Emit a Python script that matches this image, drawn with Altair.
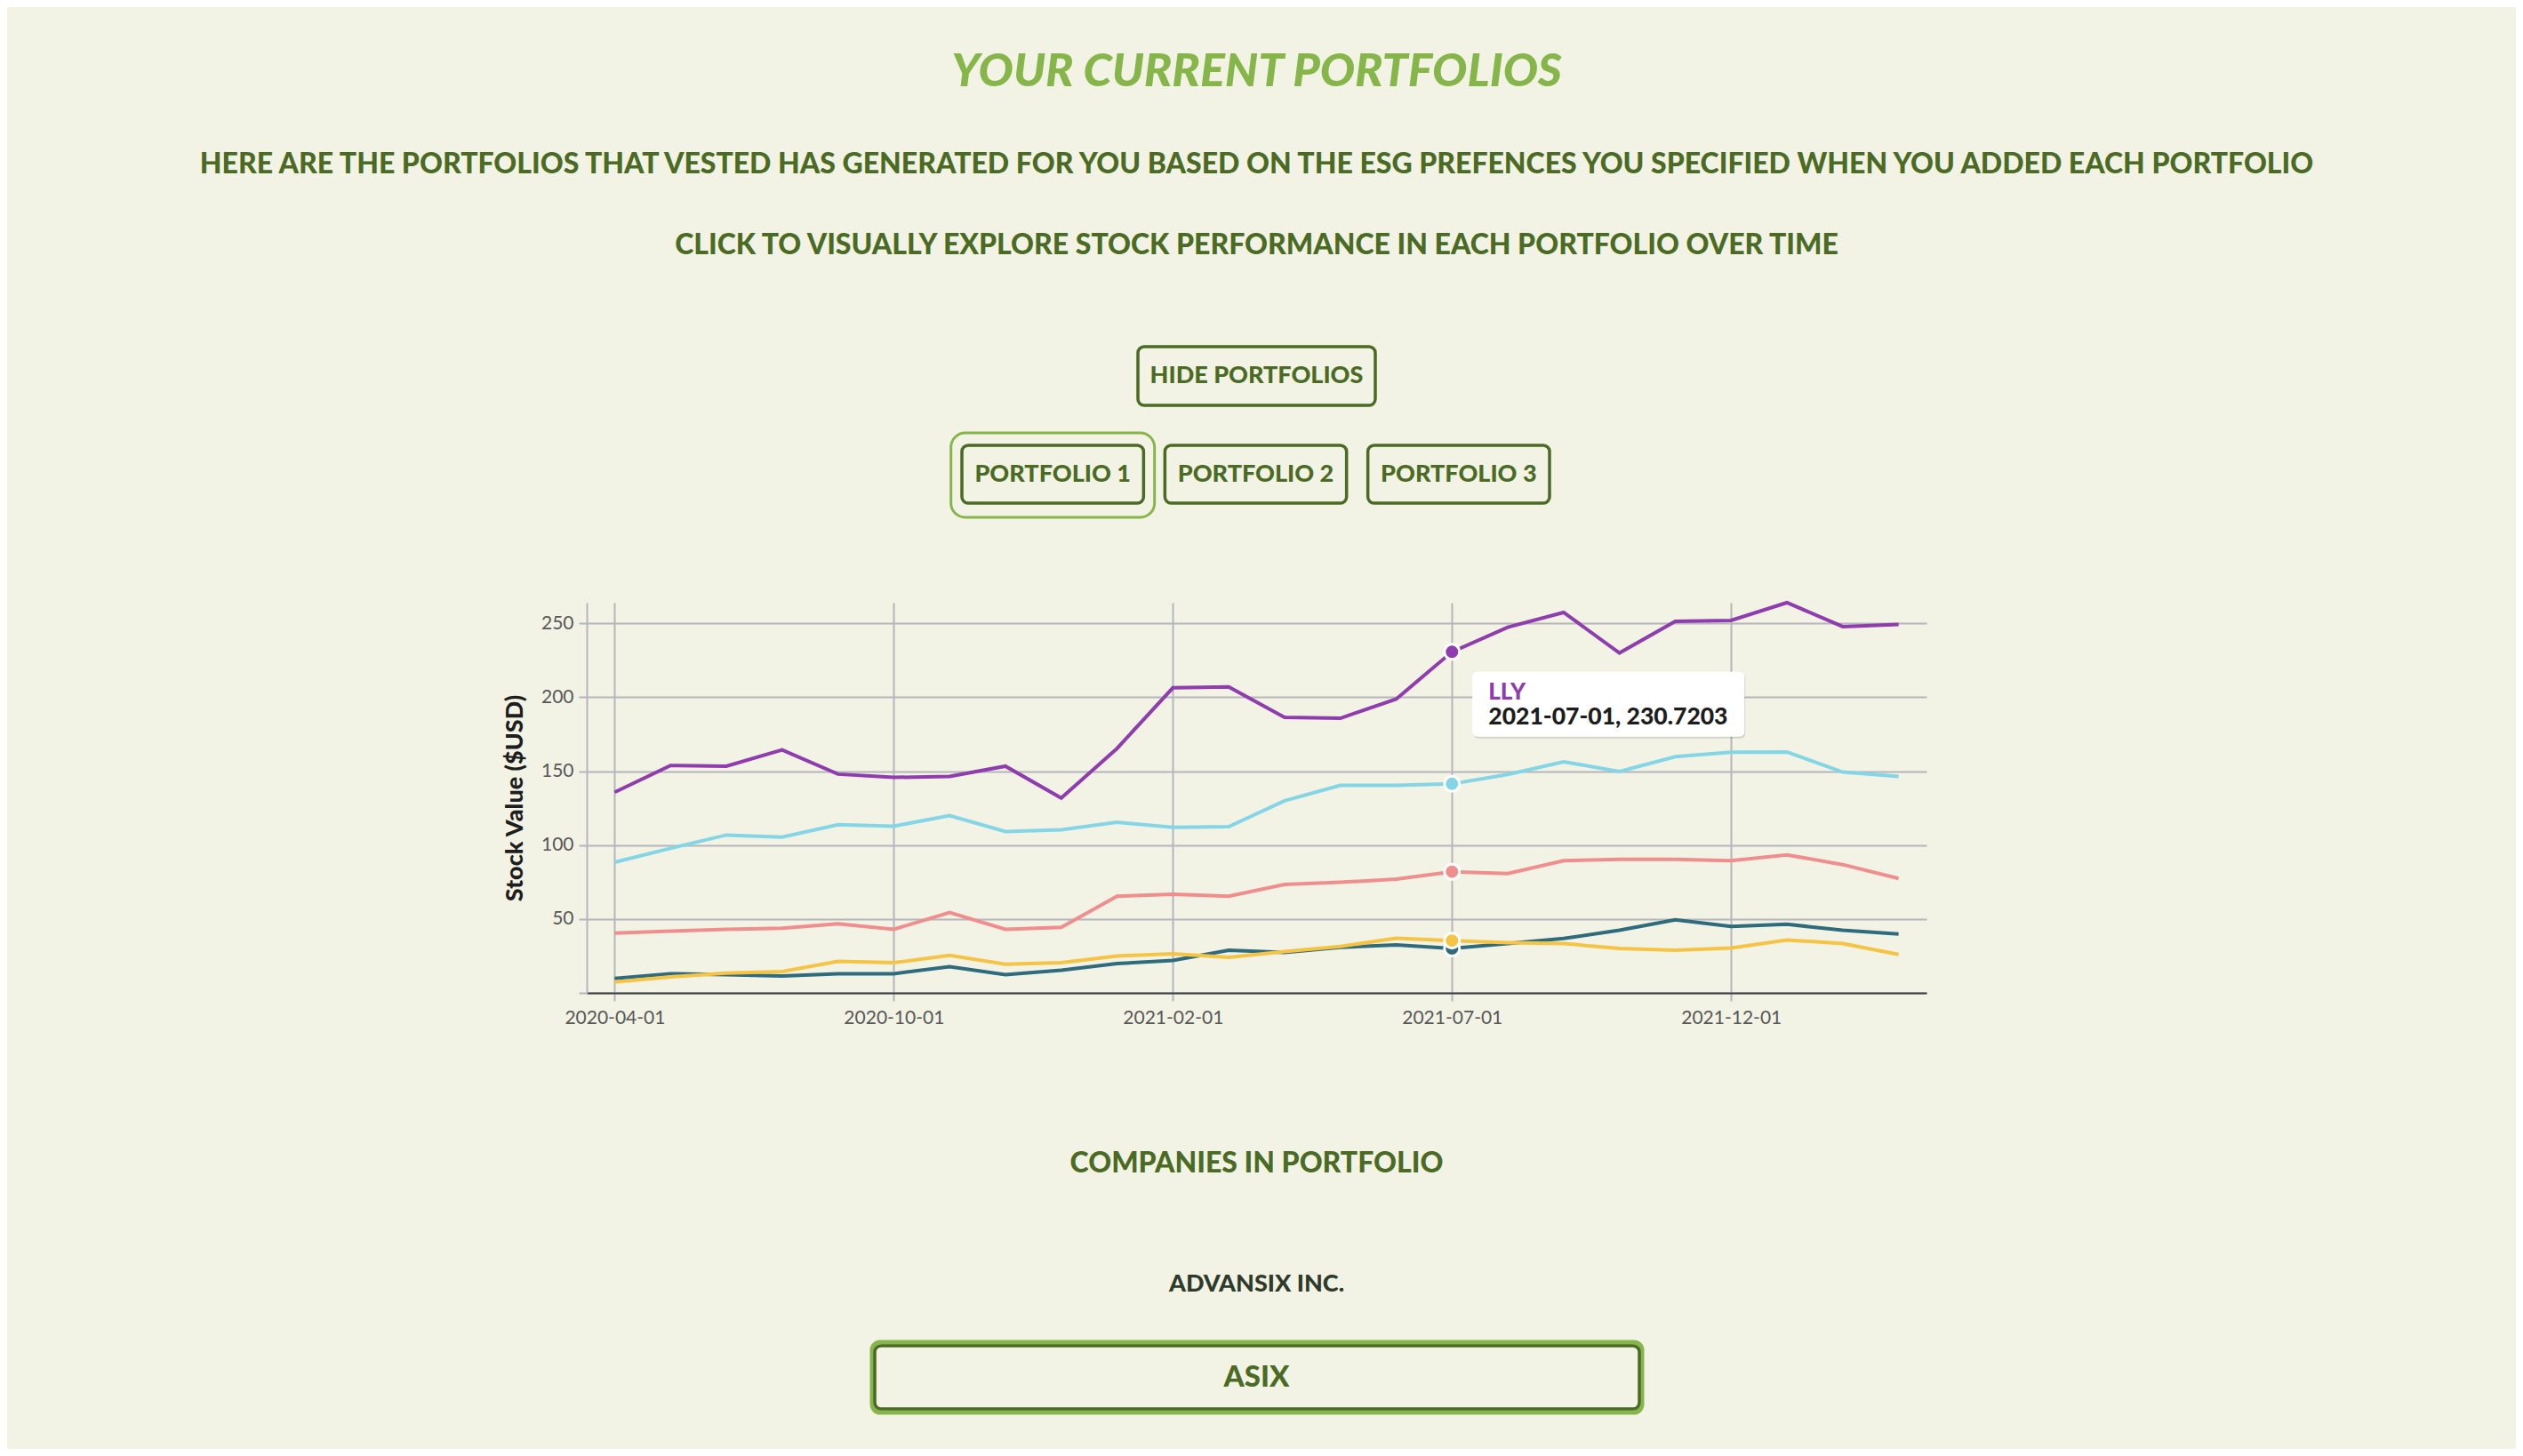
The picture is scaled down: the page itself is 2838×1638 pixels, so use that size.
import altair as alt
import pandas as pd

# ---- data -------------------------------------------------------------
dates = [
    "2020-04-01", "2020-05-01", "2020-06-01", "2020-07-01", "2020-08-03",
    "2020-10-01", "2020-11-02", "2020-12-01", "2020-12-15", "2021-01-04",
    "2021-02-01", "2021-03-01", "2021-04-01", "2021-05-03", "2021-06-01",
    "2021-07-01", "2021-08-02", "2021-09-01", "2021-10-01", "2021-11-01",
    "2021-12-01", "2022-01-03", "2022-02-01", "2022-03-01",
]
label_dates = ["2020-04-01", "2020-10-01", "2021-02-01", "2021-07-01", "2021-12-01"]

asix = [9.8, 13.0, 12.4, 11.4, 13.0, 13.0, 17.8, 12.4, 15.4, 19.8, 22.0, 28.8,
        27.4, 30.8, 32.4, 30.0, 33.4, 36.8, 42.4, 49.4, 45.0, 46.4, 42.4, 39.8]
stock_c = [40.4, 41.8, 43.0, 43.8, 46.8, 43.0, 54.4, 43.0, 44.4, 65.4, 66.8, 65.4,
           73.4, 74.8, 77.0, 82.0, 80.8, 89.4, 90.4, 90.4, 89.4, 93.4, 86.8, 77.4]
stock_d = [88.4, 97.8, 106.8, 105.4, 113.8, 112.8, 120.0, 109.2, 110.4, 115.4, 112.0, 112.4,
           130.0, 140.4, 140.4, 141.4, 147.8, 156.4, 149.8, 159.8, 162.8, 163.0, 149.4, 146.4]
lly = [135.8, 153.8, 153.4, 164.4, 148.0, 145.8, 146.4, 153.4, 131.8, 165.4, 206.4, 207.0,
       186.4, 185.8, 198.8, 230.7203, 247.4, 257.4, 230.0, 251.4, 252.0, 264.0, 247.8, 249.2]
stock_e = [7.4, 10.8, 13.4, 14.4, 21.4, 20.4, 25.4, 19.4, 20.4, 25.0, 26.4, 24.0,
           28.0, 31.4, 37.0, 35.4, 34.0, 33.4, 30.0, 28.8, 30.4, 35.8, 33.4, 26.0]

tickers = ["ASIX", "STOCK C", "STOCK D", "LLY", "STOCK E"]
series = [asix, stock_c, stock_d, lly, stock_e]
colors = ["#2D6B7D", "#F08E8E", "#84D5E6", "#8E3CAE", "#F5C444"]

hover_date = "2021-07-01"
hover_ticker = "LLY"

portfolios = ["PORTFOLIO 1", "PORTFOLIO 2", "PORTFOLIO 3"]
selected_portfolio = "PORTFOLIO 1"
company_names = ["ADVANSIX INC."]
company_tickers = ["ASIX"]

heading = "YOUR CURRENT PORTFOLIOS"
intro = ("HERE ARE THE PORTFOLIOS THAT VESTED HAS GENERATED FOR YOU BASED ON THE ESG "
         "PREFENCES YOU SPECIFIED WHEN YOU ADDED EACH PORTFOLIO")
explore = "CLICK TO VISUALLY EXPLORE STOCK PERFORMANCE IN EACH PORTFOLIO OVER TIME"

rows = []
for t, vals in zip(tickers, series):
    for d, v in zip(dates, vals):
        rows.append({"date": d, "ticker": t, "value": v})
prices = pd.DataFrame(rows)

# ---- style ------------------------------------------------------------
BG = "#F2F3E4"
DARK_GREEN = "#4B6B24"
LIGHT_GREEN = "#86B64A"
FONT = "Lato"
W, H = 1507, 439
MID = W / 2

x_enc = alt.X(
    "date:N",
    scale=alt.Scale(domain=dates),
    axis=alt.Axis(values=label_dates, title=None, labelAngle=0, grid=True,
                  domainColor="#3A3D40", domainWidth=2, labelPadding=8),
)
y_enc = alt.Y(
    "value:Q",
    scale=alt.Scale(nice=False, zero=True),
    axis=alt.Axis(values=[0, 50, 100, 150, 200, 250], title="Stock Value ($USD)",
                  labelExpr="datum.value == 0 ? '' : datum.label",
                  labelPadding=6, titlePadding=15, titleFont=FONT,
                  titleFontSize=27, titleFontWeight=900, titleColor="#1E1E1E"),
)
color_enc = alt.Color("ticker:N", scale=alt.Scale(domain=tickers, range=colors), legend=None)

base = alt.Chart(prices)
lines = base.mark_line(strokeWidth=4).encode(x=x_enc, y=y_enc, color=color_enc)
dots = base.transform_filter(alt.datum.date == hover_date).mark_circle(
    size=289, opacity=1, stroke="white", strokeWidth=3
).encode(x=x_enc, y=y_enc, color=color_enc)

# tooltip box anchored to the hovered point
box_path = ("M -0.9608,-0.2386 L 0.9608,-0.2386 Q 1,-0.2386 1,-0.1994 L 1,0.1994 "
            "Q 1,0.2386 0.9608,0.2386 L -0.9608,0.2386 Q -1,0.2386 -1,0.1994 "
            "L -1,-0.1994 Q -1,-0.2386 -0.9608,-0.2386 Z")
hovered = base.transform_filter(
    (alt.datum.date == hover_date) & (alt.datum.ticker == hover_ticker)
)
tip_shadow = hovered.mark_point(
    shape=box_path, size=306 ** 2, filled=True, fill="#000000", opacity=0.12,
    strokeWidth=0, xOffset=177, yOffset=61,
).encode(x=x_enc, y=y_enc)
tip_box = hovered.mark_point(
    shape=box_path, size=306 ** 2, filled=True, fill="white", opacity=1,
    strokeWidth=0, xOffset=176, yOffset=59,
).encode(x=x_enc, y=y_enc)
tip_name = hovered.mark_text(
    align="left", baseline="middle", dx=41, dy=46, font=FONT, fontSize=26, fontWeight=900,
).encode(x=x_enc, y=y_enc, color=color_enc, text="ticker:N")
tip_value = hovered.transform_calculate(
    label="datum.date + ', ' + format(datum.value, '.4f')"
).mark_text(
    align="left", baseline="middle", dx=41, dy=74, font=FONT, fontSize=26.5,
    fontWeight=900, color="#1D1D1D",
).encode(x=x_enc, y=y_enc, text="label:N")

plot = alt.layer(lines, dots, tip_shadow, tip_box, tip_name, tip_value)

# ---- portfolio buttons ------------------------------------------------
pf = alt.Chart(pd.DataFrame({"portfolio": portfolios}))
pf_x = alt.X("portfolio:N", axis=None,
             scale=alt.Scale(domain=portfolios, range=[422, 1083],
                             paddingInner=0.105, paddingOuter=0))
pf_ring = pf.transform_filter(alt.datum.portfolio == selected_portfolio).mark_rect(
    width=229, cornerRadius=16, fill=BG, stroke=LIGHT_GREEN, strokeWidth=3
).encode(x=pf_x, y=alt.value(-191), y2=alt.value(-96))
pf_rect = pf.mark_rect(
    cornerRadius=7, fill=BG, stroke=DARK_GREEN, strokeWidth=3.5
).encode(x=pf_x, y=alt.value(-177), y2=alt.value(-112))
pf_text = pf.mark_text(
    font=FONT, fontSize=27, fontWeight=900, color=DARK_GREEN, baseline="middle"
).encode(x=pf_x, y=alt.value(-144.5), text="portfolio:N")
buttons = alt.layer(pf_ring, pf_rect, pf_text)

# ---- page text around the chart --------------------------------------
one = pd.DataFrame({"k": [0]})


def page_text(txt, y, size, color, style="normal"):
    return alt.Chart(one).mark_text(
        text=txt, font=FONT, fontSize=size, fontWeight=900, fontStyle=style,
        color=color, align="center", baseline="middle",
    ).encode(x=alt.value(MID), y=alt.value(y))


title_t = page_text(heading, -597, 52, LIGHT_GREEN, "italic")
intro_t = page_text(intro, -493, 32, DARK_GREEN)
explore_t = page_text(explore, -402, 32, DARK_GREEN)

hide_rect = alt.Chart(one).mark_rect(
    cornerRadius=7, fill=BG, stroke=DARK_GREEN, strokeWidth=3.5
).encode(x=alt.value(620), x2=alt.value(887), y=alt.value(-288), y2=alt.value(-222))
hide_t = page_text("HIDE PORTFOLIOS", -255, 27, DARK_GREEN)

companies_t = page_text("COMPANIES IN PORTFOLIO", 631, 32, DARK_GREEN)
comp = alt.Chart(pd.DataFrame({"name": company_names, "ticker": company_tickers}))
comp_name = comp.mark_text(
    font=FONT, fontSize=27, fontWeight=900, color="#2F3B2A", baseline="middle"
).encode(x=alt.value(MID), y=alt.value(767), text="name:N")
comp_ring = comp.mark_rect(
    cornerRadius=9, fill=BG, stroke=LIGHT_GREEN, strokeWidth=5
).encode(x=alt.value(321), x2=alt.value(1187), y=alt.value(832), y2=alt.value(911))
comp_rect = comp.mark_rect(
    cornerRadius=7, fillOpacity=0, stroke=DARK_GREEN, strokeWidth=3.5
).encode(x=alt.value(324), x2=alt.value(1184), y=alt.value(836), y2=alt.value(907))
comp_ticker = comp.mark_text(
    font=FONT, fontSize=33, fontWeight=900, color=DARK_GREEN, baseline="middle"
).encode(x=alt.value(MID), y=alt.value(872), text="ticker:N")

chart = alt.layer(
    plot, buttons, title_t, intro_t, explore_t, hide_rect, hide_t,
    companies_t, comp_ring, comp_rect, comp_name, comp_ticker,
).resolve_scale(x="independent").properties(
    width=W, height=H,
    padding={"left": 652, "top": 670, "right": 663, "bottom": 513},
    autosize=alt.AutoSizeParams(type="none"),
).configure(
    background=BG, font=FONT,
).configure_view(
    stroke=None,
).configure_axis(
    gridColor="#B3B6BB", gridWidth=2, tickColor="#B3B6BB", tickWidth=2, tickSize=9,
    domainColor="#B3B6BB", domainWidth=2, labelFont=FONT, labelFontSize=21,
    labelColor="#585858", labelFontWeight=400,
)

chart.save("out.html", embed_options={"renderer": "svg", "actions": False})
